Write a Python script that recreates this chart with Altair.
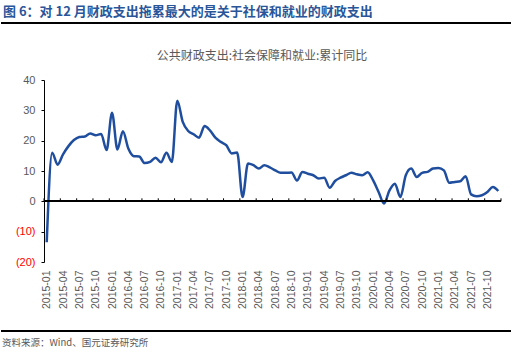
import json
import altair as alt
import pandas as pd

# ---- data ----
months = [f"{y}-{m:02d}" for y in range(2015, 2022) for m in range(1, 13)]
values = [
    -13.5, 16.0, 12.1, 15.5, 18.2, 20.2, 21.2, 21.4, 22.4, 21.8, 22.2, 16.9,
    29.2, 17.1, 23.1, 17.4, 14.9, 14.8, 12.6, 13.0, 14.4, 12.9, 16.0, 13.0,
    33.2, 26.2, 23.2, 22.1, 21.0, 24.8, 23.4, 21.0, 19.6, 18.5, 15.8, 16.1,
    1.4, 12.5, 11.9, 10.8, 11.9, 11.2, 10.2, 9.4, 9.4, 9.5, 6.9, 9.7,
    9.1, 8.6, 7.5, 7.8, 4.5, 6.7, 7.8, 8.6, 9.4, 8.9, 8.6, 9.6,
    6.9, 3.1, -0.7, 3.6, 5.8, 1.4, 8.6, 10.8, 8.0, 9.4, 9.7, 10.8,
    11.0, 10.2, 6.1, 6.4, 6.6, 8.3, 2.3, 1.7, 2.0, 3.1, 4.7, 3.4,
]
y_ticks = [-20, -10, 0, 10, 20, 30, 40]
header = "图 6：对 12 月财政支出拖累最大的是关于社保和就业的财政支出"
subtitle = "公共财政支出:社会保障和就业:累计同比"
source = "资料来源：Wind、国元证券研究所"

df = pd.DataFrame({"idx": list(range(len(months))), "month": months, "value": values})
tick_df = pd.DataFrame({"pos": [i - 0.5 for i in range(0, len(months) + 1, 3)]})
label_vals = list(range(0, len(months), 3))

W, H = 457, 182
LEFT, TOP = 44, 80
CJK = "Noto Sans CJK SC"
NUM = "Liberation Sans"
GREY = "#595959"

xscale = alt.Scale(domain=[-0.5, len(months) - 0.5], nice=False, zero=False)
yscale = alt.Scale(domain=[-20, 40], nice=False)

label_expr = json.dumps(months) + "[datum.value]"

x_axis = alt.Axis(
    values=label_vals, labelExpr=label_expr, labelAngle=-90,
    labelFont=NUM, labelFontSize=10.5, labelColor=GREY, labelPadding=8,
    labelOverlap=False, labelFlush=False, labelBound=False,
    domain=False, ticks=False, grid=False, title=None)
y_axis = alt.Axis(
    values=y_ticks,
    labelExpr="datum.value < 0 ? '(' + abs(datum.value) + ')' : datum.label",
    labelColor={"condition": {"test": "datum.value < 0", "value": "#FF0000"}, "value": GREY},
    labelFont=NUM, labelFontSize=11, labelPadding=6,
    labelOverlap=False, labelFlush=False, labelBound=False,
    domainColor="black", domainWidth=1, tickColor="black", tickSize=3,
    grid=False, title=None)

line = alt.Chart(df).mark_line(
    interpolate="monotone", color="#1F4E9E", strokeWidth=2.5
).encode(
    x=alt.X("idx:Q", scale=xscale, axis=x_axis),
    y=alt.Y("value:Q", scale=yscale, axis=y_axis),
)

zero = alt.Chart(df).mark_rule(color="black", strokeWidth=1).encode(
    y=alt.Y(datum=0, scale=yscale, axis=y_axis)
)

ticks = alt.Chart(tick_df).mark_rule(color="black", strokeWidth=1).encode(
    x=alt.X("pos:Q", scale=xscale, axis=x_axis),
    y=alt.Y(datum=0, scale=yscale, axis=y_axis),
    y2=alt.Y2(datum=1),
)

one = alt.Data(values=[{}])

header_text = alt.Chart(one).mark_text(
    text=header, font=CJK, fontSize=13, fontWeight="bold", color="#2A5699",
    align="left", baseline="middle"
).encode(x=alt.value(3 - LEFT), y=alt.value(12 - TOP))

header_rule = alt.Chart(one).mark_rule(color="black", strokeWidth=2).encode(
    x=alt.value(1 - LEFT), x2=alt.value(511 - LEFT), y=alt.value(23 - TOP)
)

sub_text = alt.Chart(one).mark_text(
    text=subtitle, font=CJK, fontSize=12, color=GREY, align="center", baseline="middle"
).encode(x=alt.value(262 - LEFT), y=alt.value(56 - TOP))

footer_rule = alt.Chart(one).mark_rule(color="black", strokeWidth=2).encode(
    x=alt.value(1 - LEFT), x2=alt.value(511 - LEFT), y=alt.value(331 - TOP)
)

footer_text = alt.Chart(one).mark_text(
    text=source, font=CJK, fontSize=9.5, color=GREY, align="left", baseline="middle"
).encode(x=alt.value(2 - LEFT), y=alt.value(343 - TOP))

chart = alt.layer(
    line, zero, ticks, header_text, header_rule, sub_text, footer_rule, footer_text
).properties(
    width=W, height=H,
    autosize=alt.AutoSizeParams(type="none"),
    padding={"left": LEFT, "top": TOP, "right": 517 - LEFT - W, "bottom": 356 - TOP - H},
    background="white",
).configure_view(stroke=None).configure_axis(labelOverlap=False)

chart.save("out.html", embed_options={"renderer": "svg", "actions": False})
